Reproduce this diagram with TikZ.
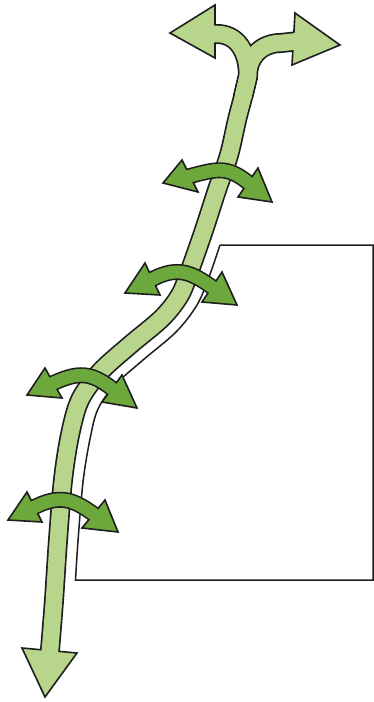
\documentclass[tikz,border=0pt]{standalone}
\usetikzlibrary{calc}
\definecolor{lightg}{RGB}{183,214,140}
\definecolor{darkg}{RGB}{108,168,60}
\definecolor{outl}{RGB}{30,30,30}
\tikzset{
 stemblack/.style={draw=outl, line width=20pt},
 stemfill/.style={draw=lightg, line width=16.6pt},
 headlight/.style={fill=lightg, draw=outl, line width=1.6pt, line join=miter},
 arcblack/.style={draw=outl, line width=16pt},
 arcfill/.style={draw=darkg, line width=12.8pt},
 headdark/.style={fill=darkg, draw=outl, line width=1.6pt, line join=miter},
 boxline/.style={draw=outl, line width=1.5pt}
}
\newcommand\rotarrow[6]{%
  \coordinate (tl) at #1; \coordinate (al) at #2; \coordinate (bl) at #3;
  \coordinate (tr) at #4; \coordinate (ar) at #5; \coordinate (br) at #6;
  \coordinate (ml) at ($(al)!0.5!(bl)$);
  \coordinate (mr) at ($(ar)!0.5!(br)$);
  \coordinate (cl) at ($(ml)!-27pt!(tl)$);
  \coordinate (cr) at ($(mr)!-27pt!(tr)$);
  \coordinate (el) at ($(ml)!6pt!(tl)$);
  \coordinate (er) at ($(mr)!6pt!(tr)$);
  \draw[arcblack] (el) -- (ml) .. controls (cl) and (cr) .. (mr) -- (er);
  \filldraw[headdark] (al) -- (tl) -- (bl) -- cycle;
  \filldraw[headdark] (ar) -- (tr) -- (br) -- cycle;
  \draw[arcfill] (el) -- (ml) .. controls (cl) and (cr) .. (mr) -- (er);
}
\def\stempath{plot[smooth,tension=0.55] coordinates {(49,658) (50,650) (54,600) (58,540) (63,480) (70,435) (80,400) (100,372) (130,345) (162,318) (180,295) (190,270) (204,230) (217,190) (229,155) (237,120) (243,97) (248,76)}}
\def\leftbr{(243,97) -- (247.5,78) -- (248,76) .. controls (248,50) and (236,34) .. (217,34) -- (209,34)}
\def\rightbr{(243,97) -- (247.5,78) -- (248,76) .. controls (248,56) and (262,43) .. (281,43) -- (299,41)}
\begin{document}
\begin{tikzpicture}[x=1pt,y=-1pt]
\useasboundingbox (0,0) rectangle (374,702);
\fill[white] (0,0) rectangle (374,702);
% box outline
\draw[boxline] (220,245) -- (373,245) -- (373,580) -- plot[smooth,tension=0.55] coordinates {(75.5,580) (78,541) (83,482) (90,439) (98,409) (115,385) (143,360) (176,332) (197,305) (209,277) (220,245)};
% stem outline pass
\draw[stemblack] \stempath;
\draw[stemblack, line join=round] \leftbr;
\draw[stemblack, line join=round] \rightbr;
% stem arrow heads
\filldraw[headlight] (215,5) -- (170,33) -- (215,58) -- cycle;
\filldraw[headlight] (295,13) -- (340,45) -- (292,65) -- cycle;
\filldraw[headlight] (22,648) -- (45,697) -- (77,653) -- cycle;
% stem fill pass
\draw[stemfill] \stempath;
\draw[stemfill, line join=round] \leftbr;
\draw[stemfill, line join=round] \rightbr;
% rotation arrows
\rotarrow{(163,183)}{(182,160)}{(198,192)}{(272,202)}{(258,168)}{(238,197)}
\rotarrow{(125,293)}{(145,263)}{(160,295)}{(237,305)}{(222,272)}{(202,302)}
\rotarrow{(27,395)}{(45,368)}{(62,398)}{(137,408)}{(122,375)}{(102,402)}
\rotarrow{(8,520)}{(27,492)}{(42,522)}{(118,532)}{(105,500)}{(82,528)}
\end{tikzpicture}
\end{document}
